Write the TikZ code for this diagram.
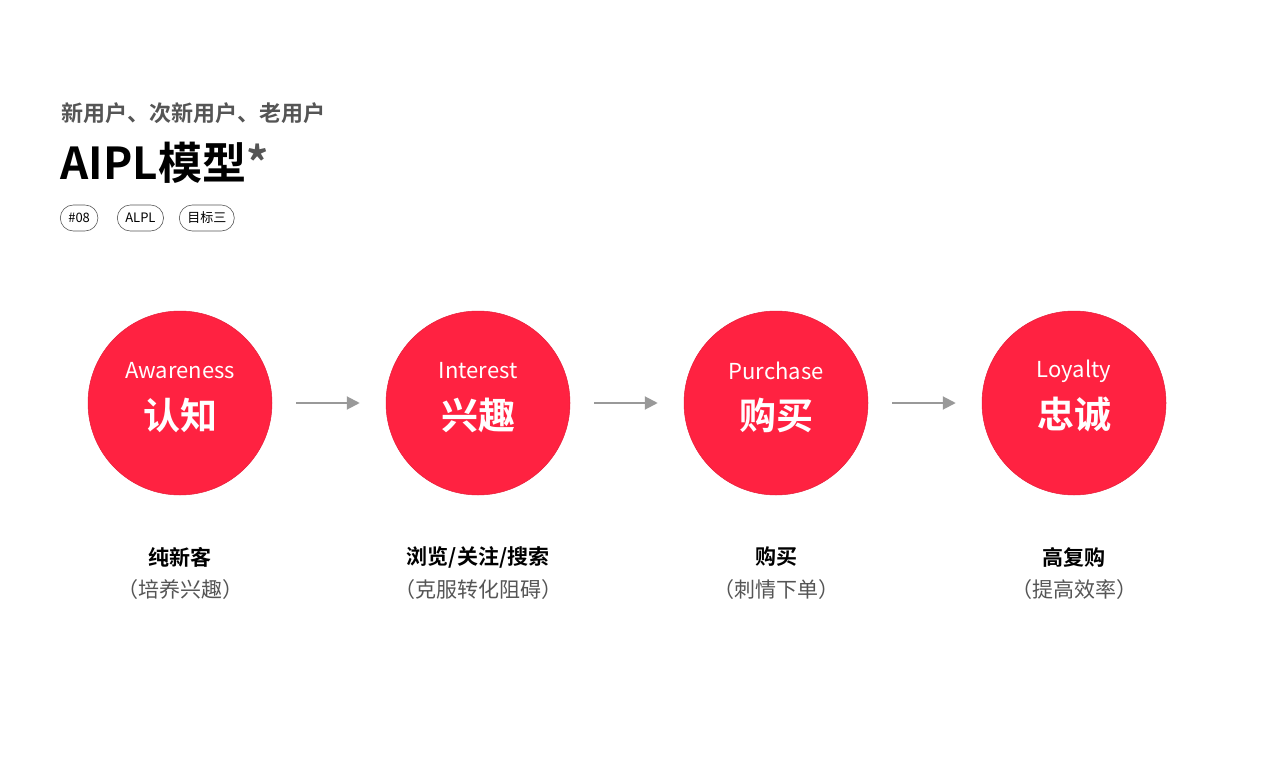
\documentclass[tikz,border=0pt]{standalone}
\usepackage{fontspec}
\setmainfont{Noto Sans CJK SC}
\newfontfamily\cjkb{Noto Sans CJK SC Bold}
\newfontfamily\latb{Liberation Sans}[BoldFont={* Bold}]
\usetikzlibrary{arrows.meta}
\definecolor{red1}{HTML}{FF2241}
\definecolor{gr}{HTML}{555555}
\definecolor{arr}{HTML}{999999}
\tikzset{
 stage/.style={circle,fill=red1,draw=red1!90!black,line width=0.5pt,minimum size=184pt,inner sep=0},
 en/.style={text=white,font=\fontsize{22}{24}\selectfont},
 zh/.style={text=white,font=\cjkb\fontsize{37}{40}\selectfont},
 l1/.style={font=\cjkb\fontsize{21}{24}\selectfont,text=black},
 l2/.style={font=\fontsize{21}{24}\selectfont,text=gr},
 tag/.style={draw=gr,line width=0.6pt,rounded corners=13pt,minimum height=26pt,inner xsep=8pt,font=\fontsize{13}{14}\selectfont},
 flow/.style={draw=arr,line width=2pt,-{Triangle[length=13pt,width=13pt]}}
}
\begin{document}
\begin{tikzpicture}[x=1pt,y=-1pt]
\useasboundingbox (0,0) rectangle (1280,770);
\node[anchor=west,text=gr,font=\cjkb\fontsize{22}{24}\selectfont] (sub) at (58,113) {新用户、次新用户、老用户};
\node[anchor=west,font=\cjkb\fontsize{44}{48}\selectfont] (title) at (57,163) {AIPL模型\textcolor{gr}{*}};
\node[tag,anchor=west] (t1) at (60,218) {\#08};
\node[tag,anchor=west] (t2) at (117,218) {ALPL};
\node[tag,anchor=west] (t3) at (179,218) {目标三};
\foreach \i/\x/\e/\z/\a/\b in {1/180/Awareness/认知/纯新客/（培养兴趣）,2/478/Interest/兴趣/浏览/关注/搜索/（克服转化阻碍）,3/776/Purchase/购买/购买/（刺情下单）,4/1074/Loyalty/忠诚/高复购/（提高效率）}{}
\node[stage] (c1) at (180,403) {};
\node[stage] (c2) at (478,403) {};
\node[stage] (c3) at (776,403) {};
\node[stage] (c4) at (1074,403) {};
\node[en] (e1) at (180,371) {Awareness};
\node[en] (e2) at (478,371) {Interest};
\node[en] (e3) at (776,371) {Purchase};
\node[en] (e4) at (1074,371) {Loyalty};
\node[zh] (z1) at (180,415) {认知};
\node[zh] (z2) at (478,415) {兴趣};
\node[zh] (z3) at (776,415) {购买};
\node[zh] (z4) at (1074,415) {忠诚};
\node[l1] (a1) at (180,557) {纯新客};
\node[l1] (a2) at (478,557) {浏览/关注/搜索};
\node[l1] (a3) at (776,557) {购买};
\node[l1] (a4) at (1074,557) {高复购};
\node[l2] (b1) at (180,590) {（培养兴趣）};
\node[l2] (b2) at (478,590) {（克服转化阻碍）};
\node[l2] (b3) at (776,590) {（刺情下单）};
\node[l2] (b4) at (1074,590) {（提高效率）};
\draw[flow] ([xshift=24pt]c1.east) -- ([xshift=-26pt]c2.west);
\draw[flow] ([xshift=24pt]c2.east) -- ([xshift=-26pt]c3.west);
\draw[flow] ([xshift=24pt]c3.east) -- ([xshift=-26pt]c4.west);
\end{tikzpicture}
\end{document}
